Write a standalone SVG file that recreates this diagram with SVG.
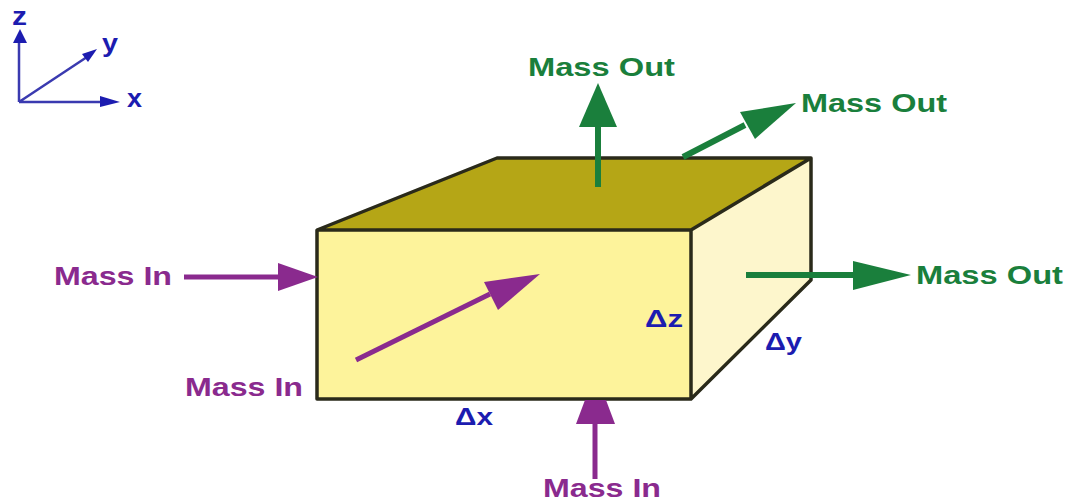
<svg xmlns="http://www.w3.org/2000/svg" width="1072" height="500" viewBox="0 0 1072 500">
<style>
text{font-family:"Liberation Sans",Arial,sans-serif;font-weight:700}
.in{fill:#8a2a8e;font-size:25px}
.out{fill:#1a7f3c;font-size:25px}
.ax{fill:#1c1cb0;font-size:25px}
.d{fill:#1c1cb0;font-size:23px}
.edge{stroke:#2a2a1a;stroke-width:3.5;stroke-linejoin:round;fill:none}
.l-in{stroke:#8a2a8e;stroke-width:5;fill:none}
.l-out{stroke:#1a7f3c;stroke-width:6;fill:none}
.l-ax{stroke:#3a3ab0;stroke-width:2.5;fill:none}
.h-in{fill:#8a2a8e}.h-out{fill:#1a7f3c}.h-ax{fill:#1c1cb0}
</style>
<rect width="1072" height="500" fill="#fff"/>
<g id="box">
<polygon points="317,230 497,158 811,158 691,230" fill="#b5a616"/>
<polygon points="691,230 811,158 811,280 691,399" fill="#fdf6cc"/>
<rect x="317" y="230" width="374" height="169" fill="#fdf39b"/>
<path class="edge" d="M317,230 L497,158 H811 V280 L691,399 H317 Z M317,230 H691 V399 M691,230 L811,158"/>
</g>
<g id="connectors">
<g id="axes">
<path class="l-ax" d="M19,102 V42 M19,102 L90,55 M19,102 H105"/>
<polygon class="h-ax" points="20,29 13,43 27,43"/>
<polygon class="h-ax" points="97,49 82,54 88,62"/>
<polygon class="h-ax" points="120,102 100,96 100,107"/>
</g>
<g id="out-top"><path class="l-out" d="M598,187 V125"/><polygon class="h-out" points="598,83 579,127 617,127"/></g>
<g id="out-back"><path class="l-out" d="M683,157 L745,125"/><polygon class="h-out" points="796,103 740,112 755,139"/></g>
<g id="out-right"><path class="l-out" d="M746,275 H858"/><polygon class="h-out" points="911,275 853,261 853,290"/></g>
<g id="in-left"><path class="l-in" d="M184,277 H282"/><polygon class="h-in" points="318,277 278,263 278,291"/></g>
<g id="in-front"><path class="l-in" d="M356,360 L490,294"/><polygon class="h-in" points="540,274 484,282 498,310"/></g>
<g id="in-bottom"><path class="l-in" d="M595,479 V420"/><polygon class="h-in" points="585,400 606,400 615,424 576,424"/></g>
</g>
<g id="labels">
<text class="ax" x="12" y="25" textLength="15" lengthAdjust="spacingAndGlyphs">z</text>
<text class="ax" x="102" y="52" textLength="16" lengthAdjust="spacingAndGlyphs">y</text>
<text class="ax" x="127" y="107" textLength="15" lengthAdjust="spacingAndGlyphs">x</text>
<text class="out" x="528" y="76" textLength="147" lengthAdjust="spacingAndGlyphs">Mass Out</text>
<text class="out" x="801" y="112" textLength="146" lengthAdjust="spacingAndGlyphs">Mass Out</text>
<text class="out" x="916" y="284" textLength="147" lengthAdjust="spacingAndGlyphs">Mass Out</text>
<text class="in" x="54" y="285" textLength="118" lengthAdjust="spacingAndGlyphs">Mass In</text>
<text class="in" x="185" y="396" textLength="118" lengthAdjust="spacingAndGlyphs">Mass In</text>
<text class="in" x="543" y="497" textLength="118" lengthAdjust="spacingAndGlyphs">Mass In</text>
<text class="d" x="455" y="425" textLength="38" lengthAdjust="spacingAndGlyphs">Δx</text>
<text class="d" x="645" y="327" textLength="38" lengthAdjust="spacingAndGlyphs">Δz</text>
<text class="d" x="765" y="350" textLength="37" lengthAdjust="spacingAndGlyphs">Δy</text>
</g>
</svg>
